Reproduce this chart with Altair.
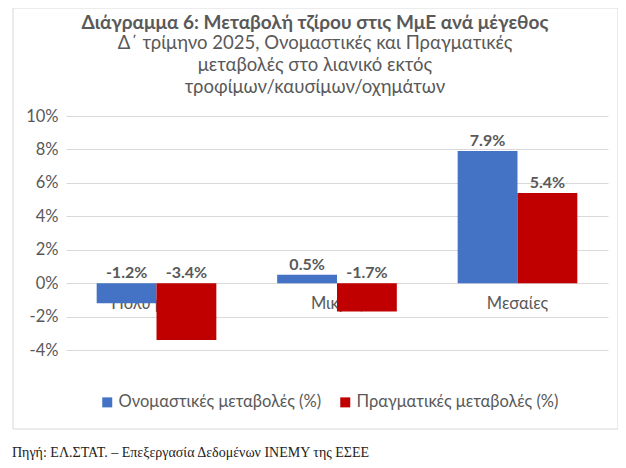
import altair as alt
import pandas as pd

categories = ["Πολύ μικρές", "Μικρές", "Μεσαίες"]
series = ["Ονομαστικές μεταβολές (%)", "Πραγματικές μεταβολές (%)"]
nominal = [-1.2, 0.5, 7.9]
real = [-3.4, -1.7, 5.4]
colors = ["#4472C4", "#C00000"]
y_ticks = [-4, -2, 0, 2, 4, 6, 8, 10]

title_text = "Διάγραμμα 6: Μεταβολή τζίρου στις ΜμΕ ανά μέγεθος"
subtitle_lines = [
    "Δ΄ τρίμηνο 2025, Ονομαστικές και Πραγματικές",
    "μεταβολές στο λιανικό εκτός",
    "τροφίμων/καυσίμων/οχημάτων",
]
footer = "Πηγή: ΕΛ.ΣΤΑΤ. – Επεξεργασία Δεδομένων ΙΝΕΜΥ της ΕΣΕΕ"

rows = []
for c, n, r in zip(categories, nominal, real):
    rows.append({"cat": c, "series": series[0], "value": n})
    rows.append({"cat": c, "series": series[1], "value": r})
df = pd.DataFrame(rows)
cat_df = pd.DataFrame({"cat": categories})
one = pd.DataFrame({"a": [0]})

GREY = "#595959"
FONT = "Lato"

xenc = alt.X("cat:N", sort=categories, axis=None,
             scale=alt.Scale(paddingInner=0.337, paddingOuter=0.17))
yscale = alt.Scale(domain=[-4, 10], nice=False, zero=False)
yaxis = alt.Axis(values=y_ticks, labelExpr="datum.value + '%'",
                 grid=True, gridColor="#D9D9D9", domain=False, ticks=False,
                 labelPadding=8, labelFontSize=16.5, labelColor=GREY,
                 labelFont=FONT, labelOverlap=False, title=None)

border = alt.Chart(one).mark_rect(fill=None, stroke="#D9D9D9", strokeWidth=1).encode(
    x=alt.value(-53), x2=alt.value(552), y=alt.value(-108), y2=alt.value(313)
)

cat_labels = alt.Chart(cat_df).mark_text(
    fontSize=16.5, color=GREY, font=FONT, baseline="middle", dy=21
).encode(
    x=xenc,
    y=alt.Y(datum=0, scale=yscale, axis=yaxis),
    text="cat:N",
)

bars = alt.Chart(df).mark_bar().encode(
    x=xenc,
    xOffset=alt.XOffset("series:N", sort=series),
    y=alt.Y("value:Q", scale=yscale, axis=yaxis),
    color=alt.Color("series:N", scale=alt.Scale(domain=series, range=colors),
                    legend=alt.Legend(orient="none", legendX=33, legendY=278,
                                      direction="horizontal", title=None,
                                      symbolType="square", symbolSize=100,
                                      symbolStrokeWidth=0, labelFontSize=16.5,
                                      labelColor=GREY, labelFont=FONT,
                                      columnPadding=15, labelOffset=3,
                                      labelLimit=400)),
)

value_labels = alt.Chart(df).transform_calculate(
    ly="max(datum.value, 0)",
    lab="replace(format(datum.value, '.1f'), '\u2212', '-') + '%'",
).mark_text(fontSize=16, fontWeight="bold", color=GREY, font=FONT,
            baseline="bottom", dy=-2).encode(
    x=xenc,
    xOffset=alt.XOffset("series:N", sort=series),
    y=alt.Y("ly:Q", scale=yscale, axis=yaxis),
    text="lab:N",
)

foot = alt.Chart(one).mark_text(
    align="left", baseline="middle", fontSize=14, font="Liberation Serif", color="#222222"
).encode(x=alt.value(-54), y=alt.value(337), text=alt.value(footer))

chart = alt.layer(border, cat_labels, bars, value_labels, foot).properties(
    width=542, height=234,
    autosize=alt.AutoSizeParams(type="none"),
    padding={"left": 58, "top": 108, "right": 10, "bottom": 110},
    background="white",
    title=alt.TitleParams(
        text=title_text, subtitle=subtitle_lines, anchor="middle", frame="group",
        dx=-22, dy=109, fontSize=19, fontWeight="bold", color=GREY, font=FONT,
        subtitleFontSize=18.5, subtitleColor=GREY, subtitleFont=FONT,
        subtitleLineHeight=22, subtitlePadding=1, offset=20,
    ),
).configure_view(stroke=None)

chart.save("out.html", embed_options={"renderer": "svg", "actions": False})
